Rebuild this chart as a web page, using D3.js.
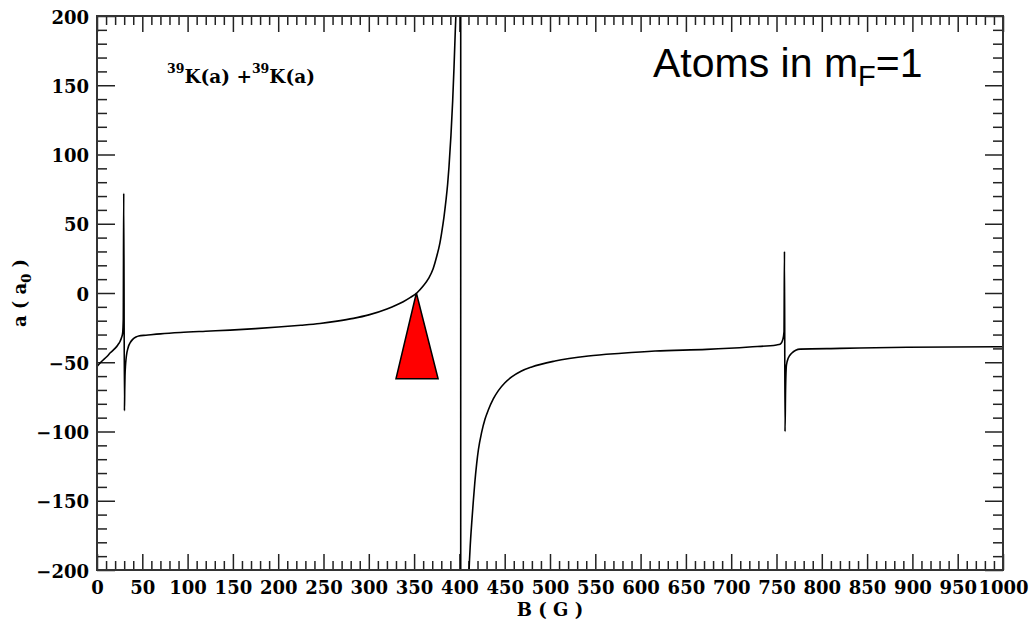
<!DOCTYPE html>
<html><head><meta charset="utf-8">
<script src="https://cdn.jsdelivr.net/npm/d3@7"></script>
<style>body{margin:0;background:#fff}</style>
</head><body><svg id="c" width="1030" height="623"></svg>
<script>
// magnetic field B (G)
const bField = [0, 5, 10.7, 15, 19.9, 23, 25.4, 27.2, 28.3, 29.0, 29.5, 30.3, 30.6, 30.9, 31.5, 32, 33, 33.9, 35, 36.5, 39.4, 43, 46, 54, 70, 92, 120, 147, 175, 200, 225, 246, 265, 283, 300, 320, 338, 346, 353, 360, 366, 371, 375, 378, 380.4, 383, 385.2, 387, 388.5, 390.7, 392.6, 394, 395.5, 396.1, 398, 400, 401.4, 401.5, 404, 408, 409.5, 410.6, 412, 413.6, 415.4, 417, 419.1, 421, 424.6, 428.3, 431.9, 437.4, 443, 450, 457.7, 468, 479.8, 505.5, 542.3, 579, 616, 673, 720, 750, 754, 757, 758.3, 758.8, 759.4, 760, 761, 763, 766.7, 776, 820, 894, 1000];
// scattering length a (a0)
const scatLength = [-53, -49.5, -46, -43, -40, -37.5, -35, -32, -29, -19, 72, -85, -70, -60, -52, -48, -43, -40.5, -38, -36, -33.5, -31.8, -31, -30.5, -29.5, -28.5, -27.6, -26.8, -25.7, -24.6, -23.3, -22, -20.3, -18.3, -15.8, -11.5, -6.3, -3.2, 0, 5, 10.5, 17.5, 26.5, 34.5, 43.5, 55, 67, 78.5, 91, 114, 139, 162, 190, 201, 320, 900, 30000, -30000, -620, -267, -224, -201, -182, -166, -150, -137, -123, -113, -100.5, -91, -84.5, -76.5, -70.5, -65, -60.6, -56.5, -53.4, -49.1, -45.5, -43.5, -41.9, -40.7, -39, -37.5, -37, -33.5, -28, 30, -100, -70, -52, -47, -43.5, -40.5, -40, -39.2, -38.8];

const xTickValues = [0, 50, 100, 150, 200, 250, 300, 350, 400, 450, 500, 550, 600, 650, 700, 750, 800, 850, 900, 950, 1000];
const yTickValues = [-200, -150, -100, -50, 0, 50, 100, 150, 200];
const triangleB = [352.5, 330, 376.5];
const triangleA = [0, -62, -62];

const W = 1030, H = 623, m = {l: 97, t: 16, r: 27, b: 53};
const svg = d3.select("#c");
const x = d3.scaleLinear().domain([0, 1000]).range([m.l, W - m.r]);
const y = d3.scaleLinear().domain([-200, 200]).range([H - m.b, m.t]);

const xMinor = d3.range(0, 1001, 10).filter(v => v % 50 !== 0);
const yMinor = d3.range(-200, 201, 10).filter(v => v % 50 !== 0);

svg.append("defs").append("clipPath").attr("id", "clip")
  .append("rect").attr("x", m.l).attr("y", m.t)
  .attr("width", W - m.l - m.r).attr("height", H - m.t - m.b);

const tickCol = "#222";
const serif = "'DejaVu Serif', serif";

function styleAxis(g) {
  g.select(".domain").remove();
  g.selectAll("line").attr("stroke", tickCol).attr("stroke-width", 1.5);
}

// bottom
svg.append("g").attr("transform", `translate(0,${H - m.b})`)
  .call(d3.axisBottom(x).tickValues(xMinor).tickSize(-9).tickFormat(""))
  .call(styleAxis);
const gb = svg.append("g").attr("transform", `translate(0,${H - m.b})`)
  .call(d3.axisBottom(x).tickValues(xTickValues).tickSize(-16).tickFormat(d3.format("d")))
  .call(styleAxis);
gb.selectAll("text").attr("y", 24).attr("dy", 0)
  .attr("font-family", serif).attr("font-weight", "bold").attr("font-size", 18).attr("fill", "#000");
// top
svg.append("g").attr("transform", `translate(0,${m.t})`)
  .call(d3.axisTop(x).tickValues(xMinor).tickSize(-9).tickFormat(""))
  .call(styleAxis);
svg.append("g").attr("transform", `translate(0,${m.t})`)
  .call(d3.axisTop(x).tickValues(xTickValues).tickSize(-16).tickFormat(""))
  .call(styleAxis);
// left
svg.append("g").attr("transform", `translate(${m.l},0)`)
  .call(d3.axisLeft(y).tickValues(yMinor).tickSize(-10).tickFormat(""))
  .call(styleAxis);
const gl = svg.append("g").attr("transform", `translate(${m.l},0)`)
  .call(d3.axisLeft(y).tickValues(yTickValues).tickSize(-18).tickFormat(d3.format("d")))
  .call(styleAxis);
gl.selectAll("text").attr("x", -8).attr("dy", "0.4em")
  .attr("font-family", serif).attr("font-weight", "bold").attr("font-size", 18).attr("fill", "#000");
// right
svg.append("g").attr("transform", `translate(${W - m.r},0)`)
  .call(d3.axisRight(y).tickValues(yMinor).tickSize(-10).tickFormat(""))
  .call(styleAxis);
svg.append("g").attr("transform", `translate(${W - m.r},0)`)
  .call(d3.axisRight(y).tickValues(yTickValues).tickSize(-18).tickFormat(""))
  .call(styleAxis);

// curve
const pts = bField.map((b, i) => [b, scatLength[i]]);
const line = d3.line().x(d => x(d[0])).y(d => y(d[1])).curve(d3.curveMonotoneX);
svg.append("path").datum(pts).attr("clip-path", "url(#clip)")
  .attr("d", line).attr("fill", "none").attr("stroke", "#000").attr("stroke-width", 1.6);

// frame
svg.append("rect").attr("x", m.l).attr("y", m.t)
  .attr("width", W - m.l - m.r).attr("height", H - m.t - m.b)
  .attr("fill", "none").attr("stroke", "#333").attr("stroke-width", 2);

// triangle marker
svg.append("polygon")
  .attr("points", triangleB.map((b, i) => `${x(b)},${y(triangleA[i])}`).join(" "))
  .attr("fill", "#ff0000").attr("stroke", "#000").attr("stroke-width", 1.5);

// axis titles
svg.append("text").attr("x", 550).attr("y", 616).attr("text-anchor", "middle")
  .attr("font-family", serif).attr("font-weight", "bold").attr("font-size", 18)
  .text("B ( G )");
const yl = svg.append("text").attr("transform", "translate(26,293) rotate(-90)")
  .attr("text-anchor", "middle")
  .attr("font-family", serif).attr("font-weight", "bold").attr("font-size", 18);
yl.append("tspan").text("a ( a");
yl.append("tspan").attr("font-size", 13).attr("dy", 5).text("0");
yl.append("tspan").attr("dy", -5).text(" )");

// annotations
const k = svg.append("text").attr("x", 167).attr("y", 83)
  .attr("font-family", serif).attr("font-size", 18.5).attr("font-weight", "bold");
k.append("tspan").attr("font-size", 12.5).attr("dy", -10).text("39");
k.append("tspan").attr("dy", 10).text("K(a) +");
k.append("tspan").attr("font-size", 12.5).attr("dy", -10).text("39");
k.append("tspan").attr("dy", 10).text("K(a)");

const at = svg.append("text").attr("x", 653).attr("y", 77)
  .attr("font-family", "'Liberation Sans', Arial, sans-serif").attr("font-size", 41).attr("fill", "#000");
at.append("tspan").text("Atoms in m");
at.append("tspan").attr("font-size", 29).attr("dy", 9).text("F");
at.append("tspan").attr("dy", -9).text("=1");
</script>
</body></html>
